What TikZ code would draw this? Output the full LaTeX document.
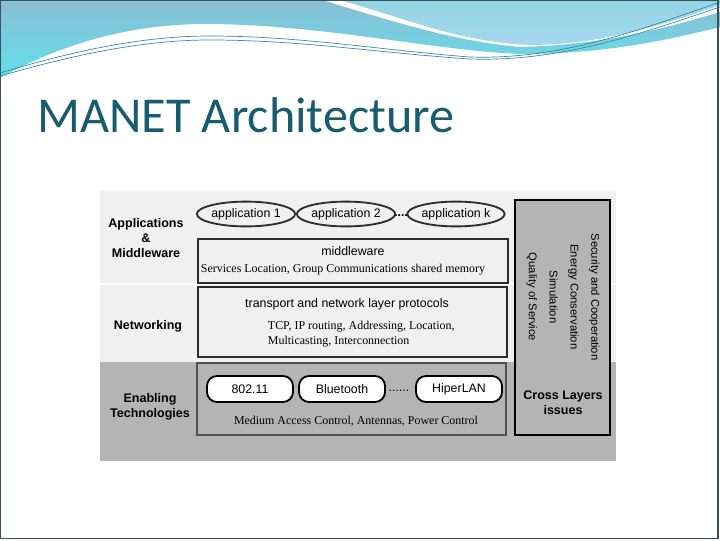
\documentclass[tikz,border=0pt]{standalone}
\usepackage{fontspec}
\setmainfont{Liberation Sans}
\newfontfamily\titlefont{Carlito}
\newfontfamily\timesfont{Liberation Serif}
\usetikzlibrary{shapes,positioning}
\definecolor{titleteal}{RGB}{24,92,112}
\definecolor{panelgray}{RGB}{240,240,240}
\definecolor{bandgray}{RGB}{180,180,180}
\definecolor{boxline}{RGB}{45,45,45}
\definecolor{techline}{RGB}{80,80,80}
\definecolor{waveblue}{RGB}{138,190,212}
\definecolor{wavecyan}{RGB}{98,224,234}
\definecolor{wavelight}{RGB}{146,214,228}
\definecolor{wavepale}{RGB}{166,214,238}
\definecolor{swooshline}{RGB}{58,140,165}
\definecolor{frameline}{RGB}{60,80,92}

\begin{document}
\begin{tikzpicture}[x=0.025cm,y=-0.025cm,
  rowlabel/.style={font=\fontsize{8.9}{10.8}\selectfont\bfseries,align=center},
  apptext/.style={font=\fontsize{8.8}{10.6}\selectfont},
  note/.style={font=\fontsize{8.5}{10.7}\selectfont\timesfont},
  app/.style={draw=boxline,line width=1.3pt,fill=panelgray,ellipse,minimum width=2.25cm,minimum height=0.62cm,inner sep=0pt,apptext},
  tech/.style={draw=black,line width=1.3pt,fill=white,rounded corners=0.25cm,minimum width=2.15cm,minimum height=0.65cm,inner sep=0pt,apptext},
  layer/.style={draw=boxline,line width=1.4pt},
  swoosh/.style={draw=swooshline,line width=0.5pt}]
\useasboundingbox (0,0) rectangle (720,540);
% slide background and wave
\fill[white] (0,0) rectangle (720,540);
\shade[top color=waveblue,bottom color=wavecyan] (0,0) -- (322,0) .. controls (400,24) and (460,42) .. (520,47) .. controls (600,45) and (660,30) .. (720,12) -- (720,27) .. controls (660,42) and (600,54) .. (520,54) .. controls (430,50) and (320,24) .. (205,24) .. controls (120,24) and (50,50) .. (0,78) -- cycle;
\shade[top color=wavelight,bottom color=wavepale] (340,0) -- (720,0) -- (720,5) .. controls (650,30) and (590,45) .. (530,45) .. controls (460,42) and (410,20) .. (340,0) -- cycle;
\draw[swoosh] (0,73) .. controls (70,52) and (140,36) .. (210,36) .. controls (300,36) and (380,50) .. (470,57) .. controls (560,60) and (640,30) .. (720,2);
\draw[swoosh] (0,76) .. controls (70,56) and (140,40) .. (210,40) .. controls (300,40) and (380,53) .. (470,59) .. controls (560,62) and (640,34) .. (720,7);
\draw[frameline,line width=0.8pt] (0.5,0.5) rectangle (718,538.5);
\node[font=\titlefont\fontsize{35.7}{40}\selectfont,text=titleteal,anchor=base west,inner sep=0pt] (title) at (37,132) {MANET Architecture};
% diagram panel
\fill[panelgray] (100,191) rectangle (616,362);
\fill[bandgray] (100,362) rectangle (616,461);
\draw[white,line width=1.2pt] (100,284) -- (616,284);
\node[rowlabel] (appslabel) at (146,238) {Applications\\\&\\Middleware};
\node[rowlabel] (netlabel) at (148,326) {Networking};
\node[rowlabel] (techlabel) at (150,407) {Enabling\\Technologies};
% applications
\node[app] (app1) at (246,214) {application 1};
\node[app] (app2) at (346,214) {application 2};
\node[rowlabel] (appdots) at (401,216) {....};
\node[app] (appk) at (456,214) {application k};
\draw[layer,fill=panelgray] (198,239) rectangle (508,283);
\node[apptext] (middleware) at (353,251) {middleware};
\node[note] (services) at (343,270) {Services Location, Group Communications shared memory};
% networking
\draw[layer,fill=panelgray] (198,287) rectangle (507,357);
\node[apptext] (transport) at (347,304) {transport and network layer protocols};
\node[note,align=left,anchor=west] (protocols) at (263,334) {TCP, IP routing, Addressing, Location,\\Multicasting, Interconnection};
% enabling technologies
\draw[draw=techline,line width=1.4pt,fill=bandgray] (197,363) rectangle (506,435);
\node[tech] (wifi) at (250,389) {802.11};
\node[tech] (bluetooth) at (342,389) {Bluetooth};
\node[apptext] (techdots) at (399,391) {......};
\node[tech] (hiperlan) at (459,389) {HiperLAN};
\node[note] (mac) at (356,421) {Medium Access Control, Antennas, Power Control};
% cross layers
\draw[draw=black,line width=1.8pt,fill=bandgray] (515,200) rectangle (610,435);
\node[font=\fontsize{8}{14.8}\selectfont,align=center,rotate=-90] (issues) at (563,297) {Security and Cooperation\\Energy Conservation\\Simulation\\Quality of Service};
\node[rowlabel] (crosslabel) at (563,403) {Cross Layers\\issues};
\end{tikzpicture}
\end{document}
